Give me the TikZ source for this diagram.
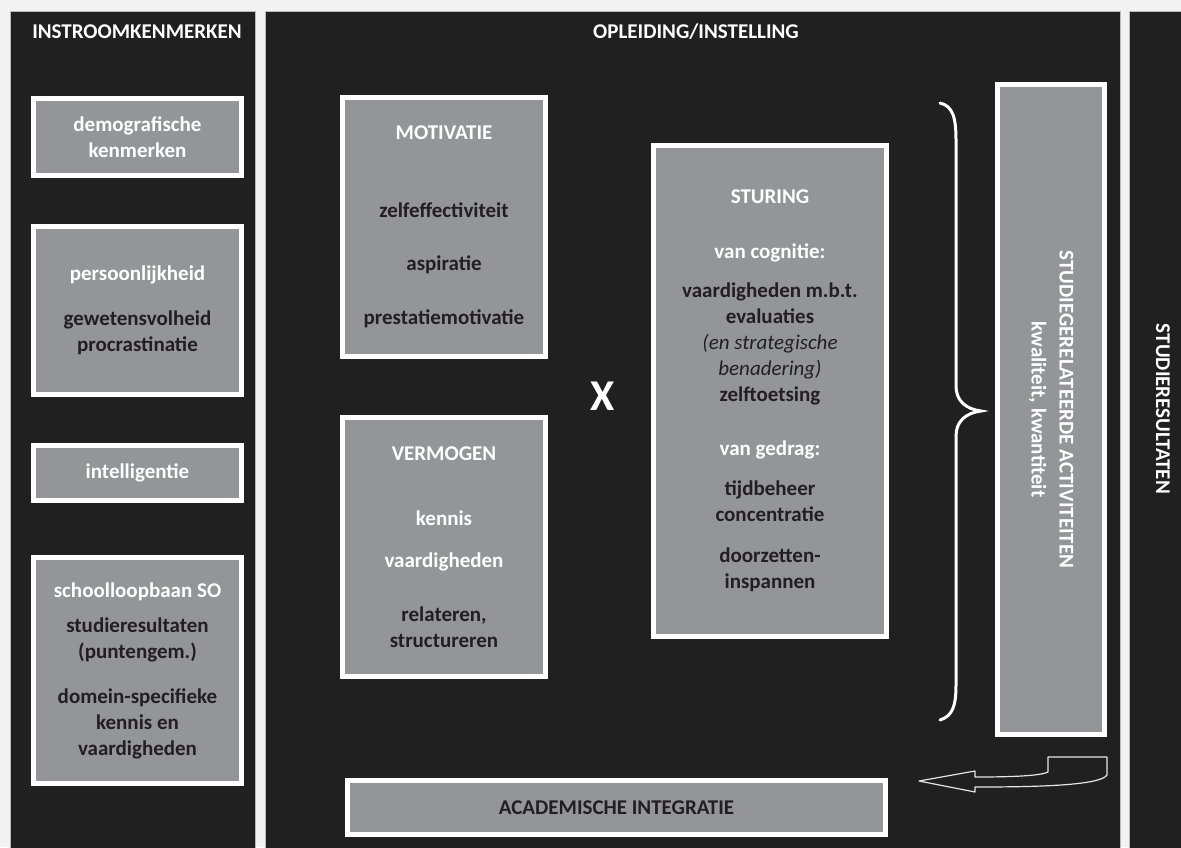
\documentclass[tikz,border=0pt]{standalone}
\usepackage{fontspec}
\setmainfont{Carlito}
\usepackage{tikz}

\definecolor{achtergrond}{HTML}{F2F2F2}
\definecolor{paneelzwart}{HTML}{202020}
\definecolor{vakgrijs}{HTML}{939598}
\definecolor{tekst}{HTML}{231F20}

\newcommand{\wit}[1]{\textcolor{white}{#1}}

\begin{document}
\begin{tikzpicture}[x=1pt, y=-1pt,
    font=\fontsize{21}{26}\selectfont\bfseries,
    vak/.style ={draw=white, line width=5pt, fill=vakgrijs, inner sep=0pt, align=center, text=tekst},
    kop/.style ={text=white, inner sep=0pt, align=center},
    paneel/.style ={fill=paneelzwart, draw=gray!55, line width=0.8pt}]
   \useasboundingbox (0,0) rectangle (1181,847);
   \fill[achtergrond] (0,0) rectangle (1181,847);

   % de drie kolommen
   \draw[paneel] (10,11) rectangle (255,848);
   \draw[paneel] (265,11) rectangle (1120,848);
   \draw[paneel] (1129,11) rectangle (1182,848);

   \node[kop] (instroom)  at (137,32)  {INSTROOMKENMERKEN};
   \node[kop] (opleiding) at (696,32)  {OPLEIDING/INSTELLING};
   \node[kop, rotate=-90] (resultaten) at (1163,409) {STUDIERESULTATEN};

   % instroomkenmerken
   \node[vak, minimum width=208pt, minimum height=77pt] (demografie) at (137.5,137)
      {\wit{demografische}\\ \wit{kenmerken}};
   \node[vak, minimum width=208pt, minimum height=168pt] (persoon) at (137.5,310.5)
      {\wit{persoonlijkheid}\\[19pt] gewetensvolheid\\ procrastinatie};
   \node[vak, minimum width=208pt, minimum height=55pt] (intelligentie) at (137.5,473)
      {\wit{intelligentie}};
   \node[vak, minimum width=208pt, minimum height=226pt] (school) at (137.5,670.5)
      {\wit{schoolloopbaan SO}\\[9pt] studieresultaten\\ (puntengem.)\\[19pt]
       domein-specifieke\\ kennis en\\ vaardigheden};

   % opleiding/instelling
   \node[vak, minimum width=203pt, minimum height=259pt] (motivatie) at (444,227)
      {\wit{MOTIVATIE}\\[52pt] zelfeffectiviteit\\[27pt] aspiratie\\[28pt] prestatiemotivatie};
   \node[vak, minimum width=203pt, minimum height=259pt] (vermogen) at (444,547)
      {\wit{VERMOGEN}\\[39pt] \wit{kennis}\\[16pt] \wit{vaardigheden}\\[28pt] relateren,\\ structureren};
   \node[kop, font=\fontsize{44}{44}\selectfont\bfseries] (maal) at (603,396) {X};
   \node[vak, minimum width=233pt, minimum height=491pt] (sturing) at (770,391)
      {\wit{STURING}\\[29pt] \wit{van cognitie:}\\[13pt] vaardigheden m.b.t.\\ evaluaties\\
       {\mdseries\itshape (en strategische}\\ {\mdseries\itshape benadering)}\\ zelftoetsing\\[28pt]
       \wit{van gedrag:}\\[14pt] tijdbeheer\\ concentratie\\[15pt] doorzetten-\\ inspannen};
   \node[vak, rotate=-90, minimum width=650pt, minimum height=107pt, text=white] (activiteiten) at (1051,409.5)
      {STUDIEGERELATEERDE ACTIVITEITEN\\[2pt] kwaliteit, kwantiteit};
   \node[vak, minimum width=538pt, minimum height=54pt] (integratie) at (616.5,807.5)
      {ACADEMISCHE INTEGRATIE};

   % accolade
   \draw[white, line width=3pt, line cap=round]
      (940,103) .. controls (953,106) and (956,118) .. (956,140) -- (956,386)
      .. controls (956,401) and (966,409) .. (981,411)
      .. controls (966,413) and (956,421) .. (956,436) -- (956,685)
      .. controls (956,705) and (953,716) .. (940,720);

   % terugkoppeling naar academische integratie
   \draw[gray!20, line width=1.2pt, line join=round]
      (919,781) -- (975,771) -- (975,777) .. controls (1010,777) and (1040,776) .. (1048,772)
      -- (1048,757) -- (1107,757) -- (1107,775)
      .. controls (1100,786) and (1030,787) .. (975,787) -- (975,792) -- cycle;

 \end{tikzpicture}
\end{document}
